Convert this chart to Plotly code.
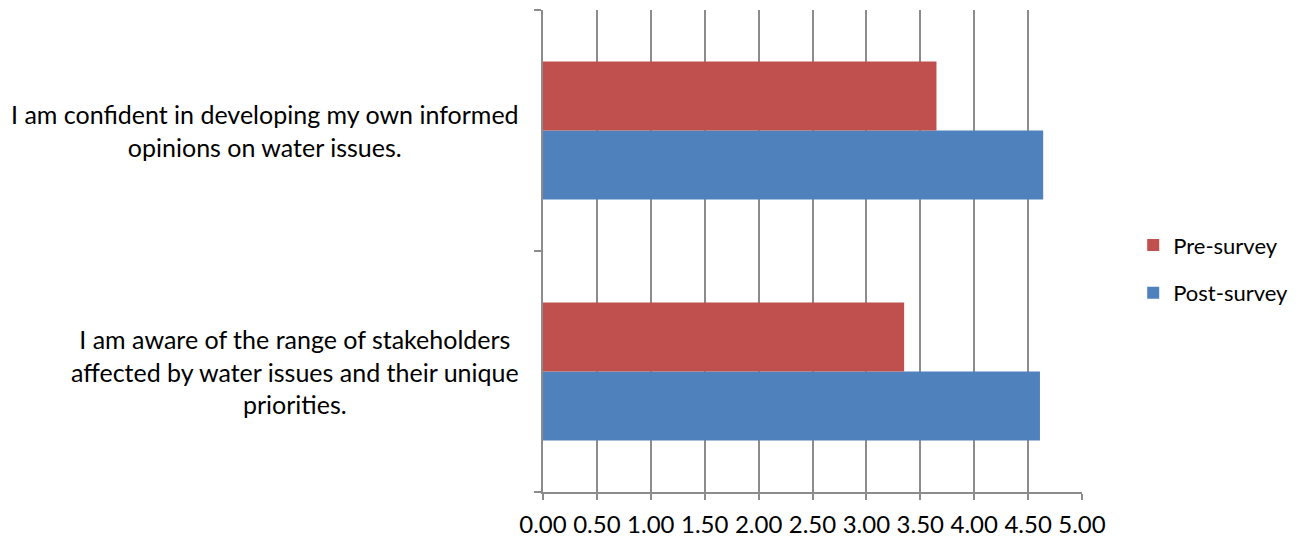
import plotly.graph_objects as go

categories = ["aware", "confident"]
category_labels = [
    "I am aware of the range of stakeholders<br>affected by water issues and their unique<br>priorities.",
    "I am confident in developing my own informed<br>opinions on water issues.",
]
pre_survey = [3.35, 3.65]
post_survey = [4.61, 4.64]
x_ticks = [0, 0.5, 1, 1.5, 2, 2.5, 3, 3.5, 4, 4.5, 5]
x_tick_labels = ["0.00", "0.50", "1.00", "1.50", "2.00", "2.50", "3.00", "3.50", "4.00", "4.50", "5.00"]

FONT = "Lato"
AXIS_GRAY = "#8c8c8c"

fig = go.Figure()
fig.add_trace(go.Bar(
    y=categories, x=post_survey, orientation="h", name="Post-survey",
    marker=dict(color="#4F81BD", line=dict(width=0)), legendrank=2, legendgroup="b",
))
fig.add_trace(go.Bar(
    y=categories, x=pre_survey, orientation="h", name="Pre-survey",
    marker=dict(color="#C0504D", line=dict(width=0)), legendrank=1, legendgroup="a",
))

for cat, label in zip(categories, category_labels):
    fig.add_annotation(
        xref="paper", yref="y", x=-0.04, y=cat,
        xanchor="right", yanchor="middle", align="center",
        text=label, showarrow=False,
        font=dict(family=FONT, size=25, color="#000000"),
    )

fig.update_layout(
    width=1291, height=531,
    margin=dict(l=535, r=217, t=2, b=47, autoexpand=False),
    paper_bgcolor="white", plot_bgcolor="white",
    barmode="group", bargap=0.428, bargroupgap=0,
    font=dict(family=FONT, size=23, color="#000000"),
    showlegend=True,
    legend=dict(x=1.095, y=0.462, xanchor="left", yanchor="middle",
                font=dict(family=FONT, size=22), tracegroupgap=16,
                bgcolor="rgba(0,0,0,0)"),
    xaxis=dict(range=[0, 5], tickvals=x_ticks, ticktext=x_tick_labels,
               showgrid=True, gridcolor=AXIS_GRAY, gridwidth=1.5,
               showline=True, linecolor=AXIS_GRAY, linewidth=1.5,
               ticks="outside", ticklen=6, tickcolor=AXIS_GRAY, tickwidth=1.5,
               tickfont=dict(family=FONT, size=24), ticklabelstandoff=4,
               zeroline=False, fixedrange=True),
    yaxis=dict(type="category", showgrid=False, showticklabels=False,
               showline=True, linecolor=AXIS_GRAY, linewidth=1.5,
               ticks="outside", ticklen=7, tickcolor=AXIS_GRAY, tickwidth=1.5,
               tickson="boundaries",
               zeroline=False, fixedrange=True),
)

fig.write_html("out.html")
